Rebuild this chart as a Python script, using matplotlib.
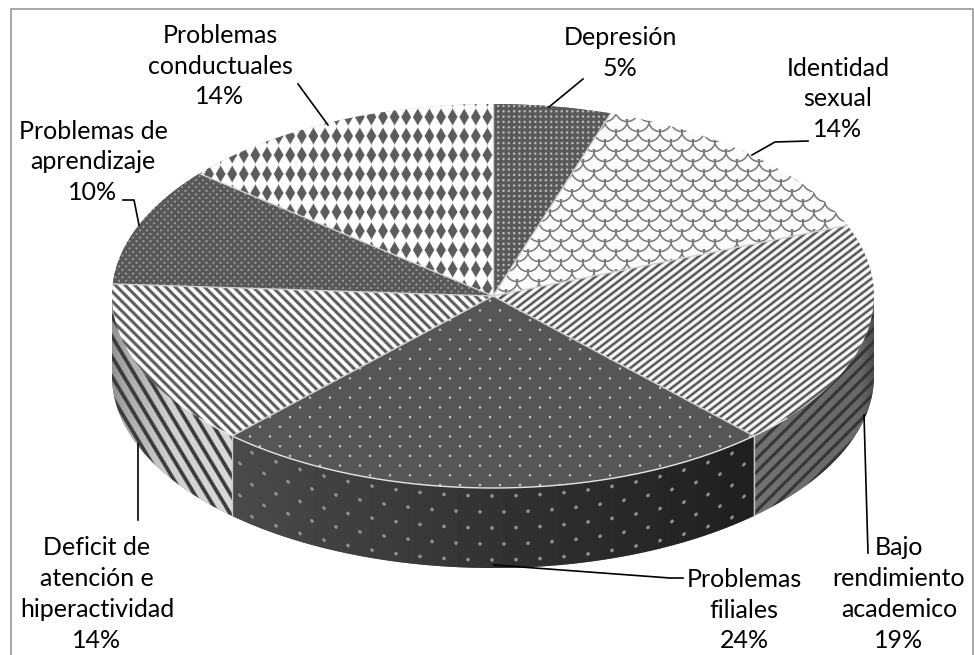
import numpy as np
import matplotlib
matplotlib.use("Agg")
import matplotlib.pyplot as plt

categories = ["Depresión", "Identidad sexual", "Bajo rendimiento academico",
              "Problemas filiales", "Deficit de atención e hiperactividad",
              "Problemas de aprendizaje", "Problemas conductuales"]
values = [5, 14, 19, 24, 14, 10, 14]
label_lines = ["Depresión", "Identidad\nsexual", "Bajo\nrendimiento\nacademico",
               "Problemas\nfiliales", "Deficit de\natención e\nhiperactividad",
               "Problemas de\naprendizaje", "Problemas\nconductuales"]

W, H = 974, 655
CX, CY, A, B, DEPTH = 493, 296, 381, 192, 80
plt.rcParams['font.family'] = ['Lato', 'DejaVu Sans']

fig = plt.figure(figsize=(W / 100, H / 100), dpi=100, facecolor='white')
ax = fig.add_axes([0, 0, 1, 1])
wedges, _ = ax.pie(values, startangle=90, counterclock=False, radius=1,
                   colors=['#5a5a5a', '#f4f4f4', '#b0b0b0', '#555555', '#b0b0b0', '#585858', '#b0b0b0'],
                   wedgeprops=dict(linewidth=0, zorder=1))
ax.set_aspect('auto')
xlim = (-CX / A, (W - CX) / A)
ylim = ((CY - H) / B, CY / B)

def px(x, y):
    return (x - CX) / A, (CY - y) / B

Y, X = np.mgrid[0:H, 0:W] + 0.5

def dots(dx, dy, r, stag=0, Yv=None):
    Yv = Y if Yv is None else Yv
    row = np.floor((Yv + dy / 2) / dy)
    xx = X + stag * (row % 2) * dx / 2
    d = np.hypot((xx + dx / 2) % dx - dx / 2, (Yv + dy / 2) % dy - dy / 2)
    return np.clip(r + 0.5 - d, 0, 1)

def stripes(P, k, duty=0.5, soft=1.0):
    ph = ((X + k * Y) / P) % 1.0
    d = np.abs(ph - 0.5) * P
    return np.clip((duty * P / 2 - d) / soft + 0.5, 0, 1)

def diamonds(x0, y0, dx, dy, hw, hh):
    u = (X - x0 + dx / 2) % dx - dx / 2
    v = (Y - y0 + dy / 2) % dy - dy / 2
    return np.clip((1 - np.abs(u) / hw - np.abs(v) / hh) * 4, 0, 1)

def scales(dx, dy, r):
    out = np.zeros_like(X)
    for ox, oy in ((0, 0), (dx / 2, dy / 2)):
        u = (X - ox + dx / 2) % dx - dx / 2
        v = (Y - oy + dy / 2) % dy - dy / 2
        for sy in (0, dy):
            for sx in (-dx, 0, dx):
                d = np.hypot(u - sx, v + sy)
                m = np.clip(1.3 - np.abs(d - r), 0, 1) * ((v + sy) > -1)
                out = np.maximum(out, m)
    return out

def mix(mask, fg, bg):
    return bg + (fg - bg) * mask

tops = [
    mix(dots(5.3, 5.3, 1.2), 0xb8, 0x5a),
    mix(scales(22, 20, 11.5), 0x78, 0xfc),
    mix(stripes(9.6, 1.3, 0.45, 2.5), 0x58, 0xff),
    mix(dots(20, 9.7, 1.2, 1), 0xc8, 0x56),
    mix(stripes(9.7, -1.0, 0.45, 2.0), 0x5c, 0xff),
    mix(dots(7, 3.6, 1.0, 1), 0xa0, 0x58),
    mix(diamonds(325, 136, 11.6, 19, 5.6, 9.6), 0x5c, 0xfe),
]

ext = (xlim[0], xlim[1], ylim[0], ylim[1])
def show(img, clip):
    im = ax.imshow(img, cmap='gray', vmin=0, vmax=255, extent=ext, origin='upper',
                   aspect='auto', interpolation='nearest', zorder=2)
    im.set_clip_path(clip)

for w, img in zip(wedges, tops):
    show(img, w)

# side wall, built from the same slice angles
edges = np.cumsum([0] + values) / sum(values) * 2 * np.pi
d = DEPTH / B
ell_y = CY + B * np.sqrt(np.clip(1 - ((X - CX) / A) ** 2, 0, 1))

bg_fil = np.interp(X, [233, 500, 750], [0x4a, 0x32, 0x20])
side_fil = mix(dots(24, 16, 1.8, 1, Y - ell_y + 8), 0x90, bg_fil)
bg_baj = np.interp(X, [750, 860, 873], [0x72, 0x68, 0x50])
side_baj = mix(stripes(13, 1.0, 0.33, 1.5), 0x36, bg_baj)
bg_def = np.interp(X, [112, 125, 170, 233], [0x90, 0xa8, 0xd0, 0xd8])
side_def = mix(stripes(12, -0.6, 0.36, 1.5), 0x3c, bg_def)
side_imgs = {2: side_baj, 3: side_fil, 4: side_def}

for i, img in side_imgs.items():
    a0 = max(edges[i], np.pi / 2)
    a1 = min(edges[i + 1], 3 * np.pi / 2)
    t = np.linspace(a0, a1, 120)
    xs = np.concatenate([np.sin(t), np.sin(t[::-1])])
    ys = np.concatenate([np.cos(t), np.cos(t[::-1]) - d])
    poly = ax.fill(xs, ys, color='#777777', linewidth=0, zorder=1)[0]
    show(img, poly)

# slice borders and rim highlight
for e in edges[:-1]:
    ax.plot([0, np.sin(e)], [0, np.cos(e)], color='#d2d2d2', lw=1.0, zorder=3)
t = np.linspace(np.pi * 0.72, np.pi * 1.28, 200)
ax.plot(np.sin(t), np.cos(t), color='#e6e6e6', lw=1.0, zorder=3)
for e in (edges[3], edges[4]):
    ax.plot([np.sin(e)] * 2, [np.cos(e), np.cos(e) - d], color='#c8c8c8', lw=1.0, zorder=3)

# leader lines (pixel anchors for annotation furniture)
leaders = [
    [(583, 79), (549, 107)],
    [(808, 141), (775, 142), (752, 155)],
    [(864, 415), (868, 553)],
    [(494, 565), (670, 578), (683, 578)],
    [(138, 444), (138, 520)],
    [(123, 200), (134, 200), (139, 225)],
    [(298, 84), (328, 125)],
]
for pts in leaders:
    xy = np.array([px(*p) for p in pts])
    ax.plot(xy[:, 0], xy[:, 1], color='black', lw=1.2, zorder=4)

anchors = [(620, 53), (838, 99), (899, 594), (744, 610),
           (97, 594), (93, 162), (220, 66)]
for lab, v, (x, y) in zip(label_lines, values, anchors):
    ax.text(*px(x, y), f"{lab}\n{v}%", ha='center', va='center', multialignment='center',
            fontsize=18, color='black', linespacing=1.42, zorder=5)

frame = np.array([px(11, 655), px(11, 9.5), px(973, 9.5), px(973, 655)])
ax.plot(frame[:, 0], frame[:, 1], color='#a6a6a6', lw=1.4, zorder=6)

ax.set_xlim(*xlim)
ax.set_ylim(*ylim)
ax.axis('off')
fig.savefig('out.png', dpi=100)
